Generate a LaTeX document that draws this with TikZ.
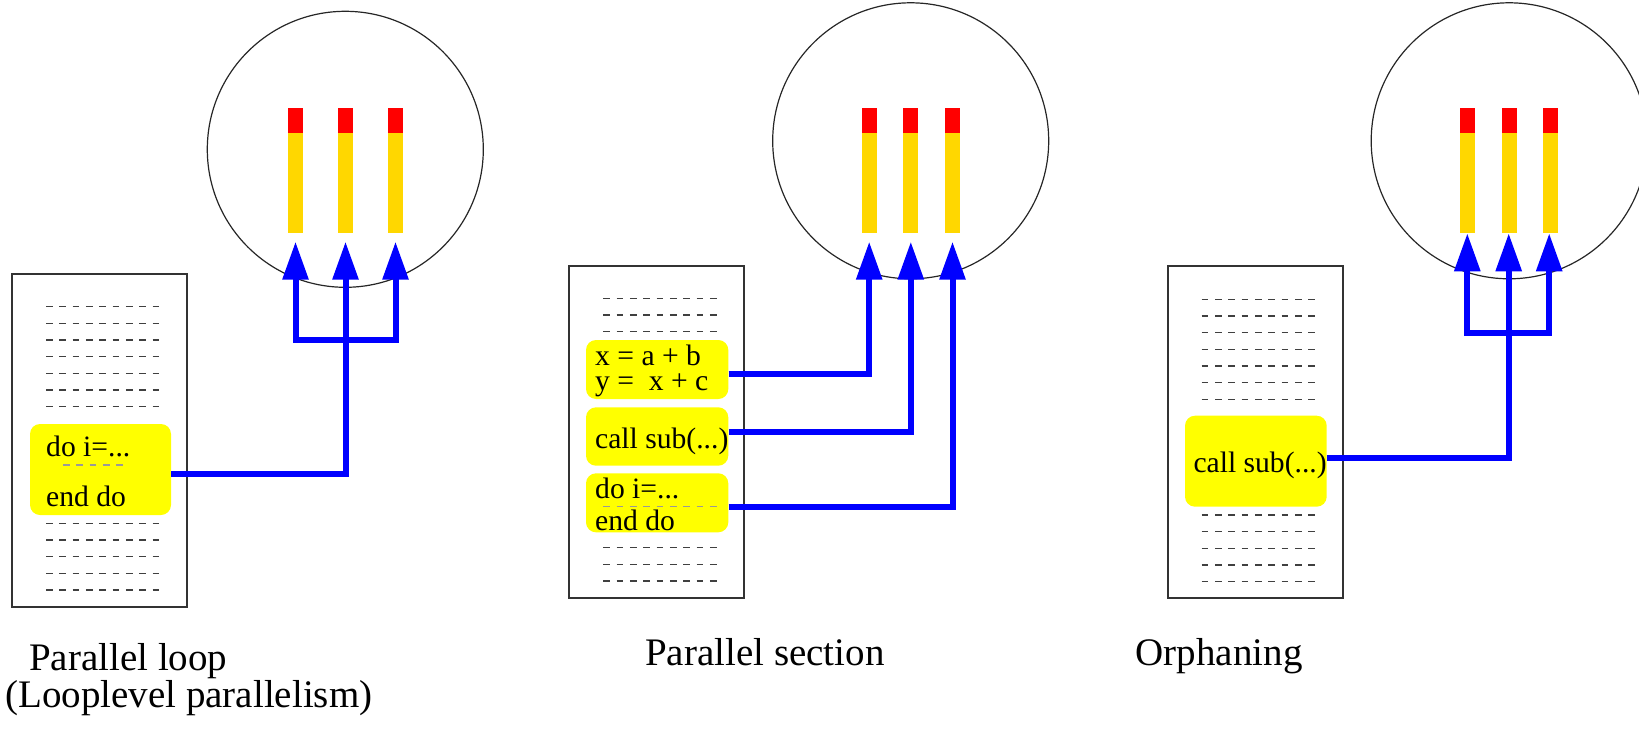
\documentclass[tikz,border=0pt]{standalone}
\usepackage{fontspec}
\setmainfont{Liberation Serif}
\usetikzlibrary{arrows.meta,calc}
\definecolor{barred}{RGB}{255,0,0}
\definecolor{baryellow}{RGB}{255,215,0}
\definecolor{hilite}{RGB}{255,255,0}
\definecolor{connblue}{RGB}{0,0,255}
\begin{document}
\begin{tikzpicture}[x=1pt,y=-1pt,
  codebox/.style={draw=black!80, line width=1.3pt, inner sep=0pt},
  ybox/.style={fill=hilite, rounded corners=10pt, inner sep=0pt},
  dashrow/.style={black!75, line width=1.3pt, dash pattern=on 6.7pt off 6.63pt},
  innerdash/.style={black!40, line width=1.2pt, dash pattern=on 6.7pt off 6.63pt},
  ring/.style={draw=black!85, line width=1.2pt, circle, minimum size=276pt, inner sep=0pt},
  capbox/.style={fill=barred, minimum width=15pt, minimum height=25pt, inner sep=0pt, anchor=south},
  barbox/.style={fill=baryellow, minimum width=15pt, minimum height=100pt, inner sep=0pt, anchor=north},
  arr/.style={connblue, line width=6pt, -{Triangle[width=25pt,length=38pt]}},
  codetext/.style={font=\fontsize{29.6}{25}\selectfont, inner sep=0pt, anchor=base west, align=left},
  caption/.style={font=\fontsize{39}{34}\selectfont, inner sep=0pt, anchor=base west, align=left}
]
\useasboundingbox (0,0) rectangle (1639,731);

% ---------------- circles and bars ----------------
\node[ring] (cpu1) at (345.3,149.3) {};
\node[ring] (cpu2) at (910.7,140.8) {};
\node[ring] (cpu3) at (1509.2,140.8) {};

\foreach \n/\x in {11/295.5,12/345.5,13/395.5,21/869.2,22/910.8,23/952.5,31/1467.5,32/1509.2,33/1550.8}{
  \node[barbox] (bar\n) at (\x,132.7) {};
  \node[capbox] (cap\n) at (bar\n.north) {};
}

% ---------------- code boxes ----------------
\node[codebox, minimum width=175pt, minimum height=333pt] (code1) at (99.5,440.5) {};
\node[codebox, minimum width=175pt, minimum height=332pt] (code2) at (656.5,432) {};
\node[codebox, minimum width=175pt, minimum height=332pt] (code3) at (1255.5,432) {};

\foreach \k in {0,...,6}{
  \draw[dashrow] (46,306.7+16.67*\k) -- (159.3,306.7+16.67*\k);
  \draw[dashrow] (1201.7,299.3+16.67*\k) -- (1315,299.3+16.67*\k);
}
\foreach \k in {0,...,4}{
  \draw[dashrow] (46,523.3+16.67*\k) -- (159.3,523.3+16.67*\k);
  \draw[dashrow] (1201.7,515+16.67*\k) -- (1315,515+16.67*\k);
}
\foreach \k in {0,...,2}{
  \draw[dashrow] (603.3,298.3+16.67*\k) -- (716.6,298.3+16.67*\k);
  \draw[dashrow] (603.3,547.7+16.67*\k) -- (716.6,547.7+16.67*\k);
}

% ---------------- highlighted code ----------------
\node[ybox, minimum width=141pt, minimum height=91pt] (loop1) at (100.5,469.5) {};
\node[codetext] (loop1a) at (46,456.7) {do i=...};
\draw[innerdash] (63,465) -- (123,465);
\node[codetext] (loop1b) at (46,506.7) {end do};

\node[ybox, minimum width=142.3pt, minimum height=59pt] (secA) at (657.15,369.5) {};
\node[ybox, minimum width=142.3pt, minimum height=58.4pt] (secB) at (657.15,436.5) {};
\node[ybox, minimum width=142.3pt, minimum height=59pt] (secC) at (657.15,502.8) {};
\node[codetext] (secAa) at (595,390) {x = a + b\\y =\ \ x + c};
\node[codetext] (secBa) at (595,448.3) {call sub(...)};
\node[codetext] (secCa) at (595,498.3) {do i=...};
\draw[innerdash] (603.3,506.7) -- (716.6,506.7);
\node[codetext] (secCb) at (595,530) {end do};

\node[ybox, minimum width=141.7pt, minimum height=91pt] (orph) at (1255.85,461.2) {};
\node[codetext] (orpha) at (1193.3,472.7) {call sub(...)};

% ---------------- arrow tips and forks ----------------
\coordinate (tip11) at (295.5,241.7);
\coordinate (tip12) at (345.5,241.7);
\coordinate (tip13) at (395.5,241.7);
\coordinate (fork1) at (345.5,340.3);
\coordinate (tip21) at (869.2,241.7);
\coordinate (tip22) at (910.8,241.7);
\coordinate (tip23) at (952.5,241.7);
\coordinate (tip31) at (1467.3,233.3);
\coordinate (tip32) at (1508.7,233.3);
\coordinate (tip33) at (1549.2,233.3);
\coordinate (fork3) at (1508.7,332.7);

% ---------------- connectors ----------------
\draw[arr] ($(loop1.east)+(0,4.5)$) -| (tip12);
\draw[arr] (fork1) -| (tip11);
\draw[arr] (fork1) -| (tip13);

\draw[arr] ($(secA.east)+(0,4.5)$) -| (tip21);
\draw[arr] ($(secB.east)+(0,-4.5)$) -| (tip22);
\draw[arr] ($(secC.east)+(0,4.2)$) -| (tip23);

\draw[arr] ($(orph.east)+(0,-3.5)$) -| (tip32);
\draw[arr] (fork3) -| (tip31);
\draw[arr] (fork3) -| (tip33);

% ---------------- captions ----------------
\node[caption] (cap1) at (5,707.3) {\hspace*{24pt}Parallel loop\\(Looplevel parallelism)};
\node[caption] (cap2) at (645,665) {Parallel section};
\node[caption] (cap3) at (1135.5,665) {Orphaning};
\end{tikzpicture}
\end{document}
